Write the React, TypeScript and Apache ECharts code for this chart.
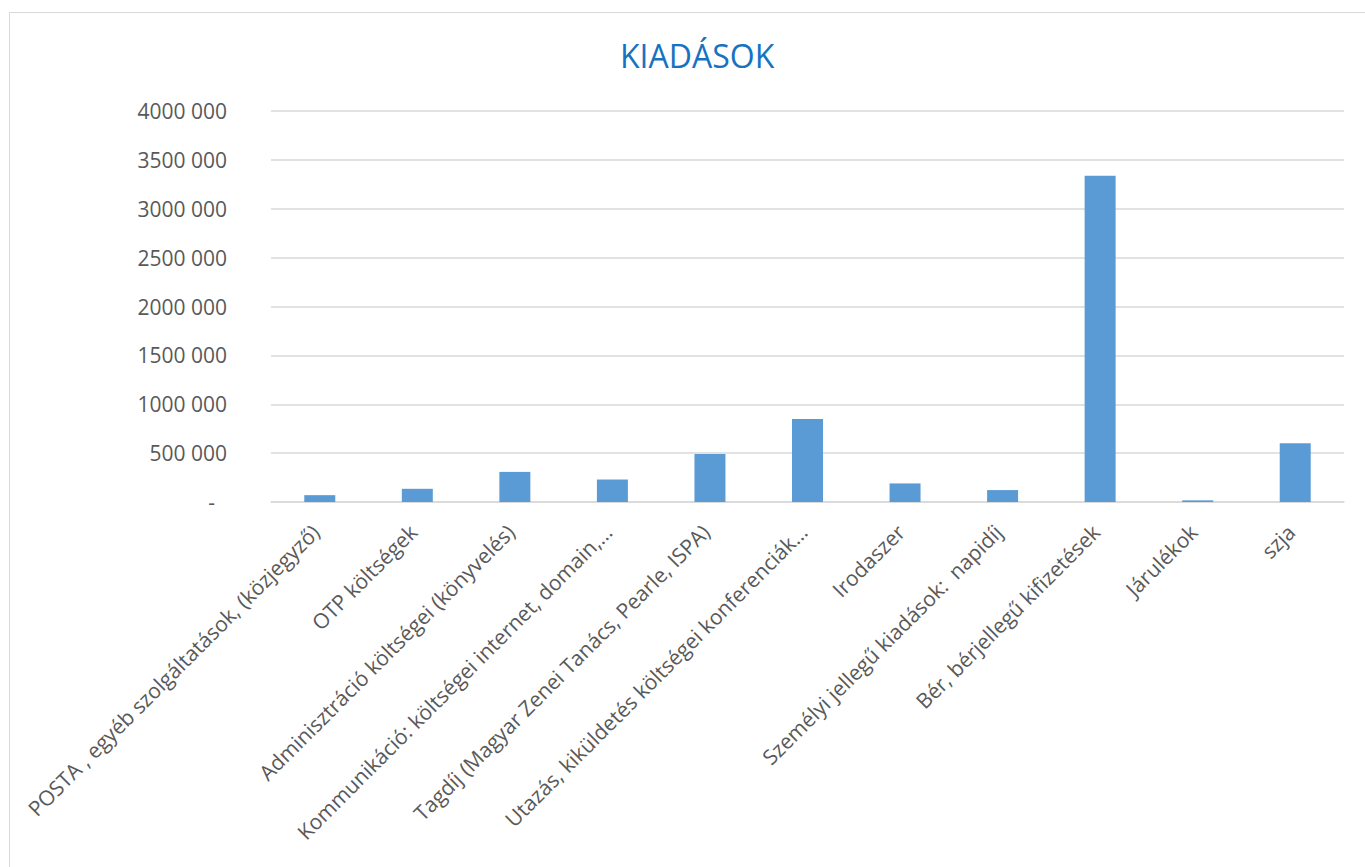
import React, { useEffect, useRef } from "react";
import * as echarts from "echarts";

const categories = [
  "POSTA , egyéb szolgáltatások, (közjegyző)",
  "OTP költségek",
  "Adminisztráció költségei (könyvelés)",
  "Kommunikáció: költségei internet, domain,…",
  "Tagdíj (Magyar Zenei Tanács, Pearle, ISPA)",
  "Utazás, kiküldetés költségei konferenciák…",
  "Irodaszer",
  "Személyi jellegű kiadások:  napidíj",
  "Bér, bérjellegű kifizetések",
  "Járulékok",
  "szja",
];

const values = [70000, 135000, 308000, 230000, 492000, 848000, 190000, 122000, 3337000, 17000, 600000];

const yTicks = { min: 0, max: 4000000, interval: 500000 };

const FONT = "'Open Sans', 'Liberation Sans', sans-serif";
const TEXT = "#595959";

function fmt(v: number): string {
  if (v === 0) return "{d|-}";
  const thousands = Math.floor(v / 1000);
  return `${thousands} 000`;
}

export default function App() {
  const ref = useRef<HTMLDivElement>(null);
  useEffect(() => {
    if (!ref.current) return;
    const chart = echarts.init(ref.current, undefined, { renderer: "svg" });
    chart.setOption({
      animation: false,
      backgroundColor: "#ffffff",
      title: {
        text: "KIADÁSOK",
        left: 615,
        top: 34,
        textStyle: { color: "#1673C2", fontFamily: FONT, fontSize: 32, fontWeight: "normal" },
      },
      graphic: [
        {
          type: "rect",
          shape: { x: 9.5, y: 12.5, width: 1400, height: 900 },
          style: { fill: "none", stroke: "#D9D9D9", lineWidth: 1 },
          silent: true,
        },
      ],
      grid: { left: 271, right: 21, top: 111, height: 391, containLabel: false },
      xAxis: {
        type: "category",
        data: categories,
        axisLine: { show: true, lineStyle: { color: "#D9D9D9", width: 1.5 } },
        axisTick: { show: false },
        axisLabel: {
          interval: 0,
          rotate: 45,
          margin: 22,
          padding: [0, 6, 0, 0],
          color: TEXT,
          fontFamily: FONT,
          fontSize: 21,
        },
      },
      yAxis: {
        type: "value",
        min: yTicks.min,
        max: yTicks.max,
        interval: yTicks.interval,
        axisLine: { show: false },
        axisTick: { show: false },
        splitLine: { lineStyle: { color: "#D9D9D9", width: 1.5 } },
        axisLabel: {
          margin: 44,
          color: TEXT,
          fontFamily: FONT,
          fontSize: 21,
          formatter: fmt,
          rich: { d: { color: TEXT, fontFamily: FONT, fontSize: 21, padding: [0, 12, 0, 0] } },
        },
      },
      series: [
        {
          type: "bar",
          data: values,
          barWidth: 31,
          itemStyle: { color: "#5B9BD5" },
        },
      ],
    });
    return () => chart.dispose();
  }, []);
  return (
    <div
      ref={ref}
      style={{ position: "fixed", left: 0, top: 0, width: 1365, height: 867 }}
    />
  );
}
